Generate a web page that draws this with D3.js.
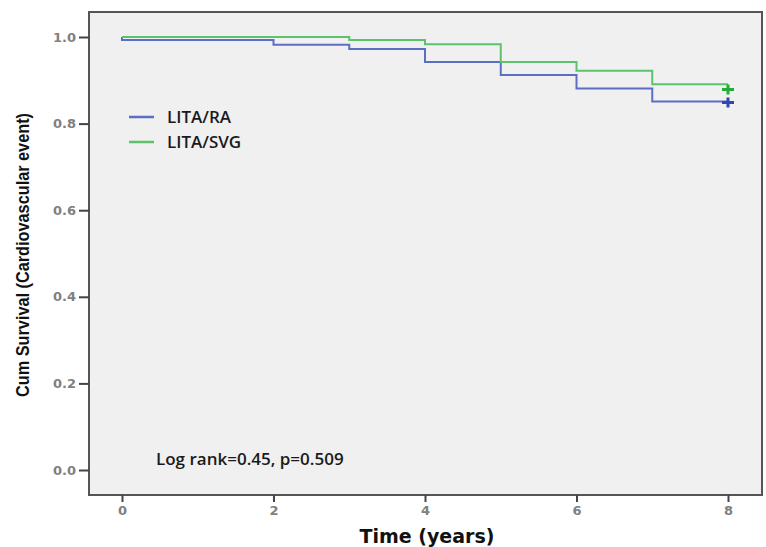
<!DOCTYPE html>
<html>
<head>
<meta charset="utf-8">
<script src="https://cdn.jsdelivr.net/npm/d3@7"></script>
<style>
  body { margin: 0; background: #fff; }
  svg { display: block; }
</style>
</head>
<body>
<div id="km"></div>
<script>
// Kaplan-Meier steps
var groups = ["LITA/RA", "LITA/SVG"];
var raTimes = [0, 0, 2, 3, 4, 5, 6, 7];
var raSurv = [1.0, 0.993, 0.982, 0.972, 0.942, 0.912, 0.881, 0.851];
var svgTimes = [0, 3, 4, 5, 6, 7];
var svgSurv = [1.0, 0.993, 0.983, 0.942, 0.922, 0.891];
var endTime = 8;
var raCensor = [{ t: 8, s: 0.849 }];
var svgCensor = [{ t: 8, s: 0.879 }];
var xTicks = [0, 2, 4, 6, 8];
var yTicks = [0.0, 0.2, 0.4, 0.6, 0.8, 1.0];
var statText = "Log rank=0.45, p=0.509";

var width = 766;
var height = 547;
var frame = { left: 89, right: 762, top: 12, bottom: 495 };
var colors = { "LITA/RA": "#5a6fc3", "LITA/SVG": "#5cc26b" };
var markColors = { "LITA/RA": "#3048ae", "LITA/SVG": "#25ad33" };

var xScale = d3.scaleLinear().domain([0, 8]).range([122, 728]);
var yScale = d3.scaleLinear().domain([0, 1]).range([470, 37]);

var svg = d3.select('#km')
    .append('svg')
    .attr('width', width)
    .attr('height', height);

// plot area
svg.append('rect')
    .attr('x', frame.left)
    .attr('y', frame.top)
    .attr('width', frame.right - frame.left)
    .attr('height', frame.bottom - frame.top)
    .attr('fill', '#f0f0f0')
    .attr('stroke', '#555')
    .attr('stroke-width', 2);

var yAxis = d3.axisLeft(yScale)
    .tickValues(yTicks)
    .tickFormat(d3.format(".1f"))
    .tickSize(10)
    .tickSizeOuter(0);

var gy = svg.append('g')
    .attr('transform', 'translate(' + frame.left + ',0)')
    .call(yAxis);
gy.select('.domain').remove();
gy.selectAll('line').attr('stroke', '#444').attr('stroke-width', 2);
gy.selectAll('text')
    .attr('x', -13)
    .attr('fill', '#808080')
    .style('font-family', 'DejaVu Sans')
    .style('font-weight', 'bold')
    .style('font-size', '13px');

var xAxis = d3.axisBottom(xScale)
    .tickValues(xTicks)
    .tickFormat(d3.format("d"))
    .tickSize(7)
    .tickSizeOuter(0);

var gx = svg.append('g')
    .attr('transform', 'translate(0,' + frame.bottom + ')')
    .call(xAxis);
gx.select('.domain').remove();
gx.selectAll('line').attr('stroke', '#444').attr('stroke-width', 2);
gx.selectAll('text')
    .attr('y', 11)
    .attr('fill', '#808080')
    .style('font-family', 'DejaVu Sans')
    .style('font-weight', 'bold')
    .style('font-size', '13px');

// axis titles
svg.append('text')
    .attr('x', 427)
    .attr('y', 543)
    .attr('text-anchor', 'middle')
    .attr('fill', '#111')
    .style('font-family', 'DejaVu Sans')
    .style('font-weight', 'bold')
    .style('font-size', '19px')
    .text('Time (years)');

svg.append('text')
    .attr('transform', 'translate(29,255) rotate(-90)')
    .attr('text-anchor', 'middle')
    .attr('fill', '#111')
    .attr('textLength', 284)
    .attr('lengthAdjust', 'spacingAndGlyphs')
    .style('font-family', '"Liberation Sans Narrow", "Liberation Sans", sans-serif')
    .style('font-weight', 'bold')
    .style('font-size', '18px')
    .text('Cum Survival (Cardiovascular event)');

// step curves
function stepPoints(times, surv) {
    var pts = times.map(function(t, i) { return [t, surv[i]]; });
    pts.push([endTime, surv[surv.length - 1]]);
    return pts;
}
var line = d3.line()
    .x(function(d) { return xScale(d[0]); })
    .y(function(d) { return yScale(d[1]); })
    .curve(d3.curveStepAfter);

var series = [
    { name: "LITA/RA", pts: stepPoints(raTimes, raSurv), censor: raCensor },
    { name: "LITA/SVG", pts: stepPoints(svgTimes, svgSurv), censor: svgCensor }
];

series.forEach(function(s) {
    svg.append('path')
        .attr('d', line(s.pts))
        .attr('fill', 'none')
        .attr('stroke', colors[s.name])
        .attr('stroke-width', 2);
    svg.selectAll(null)
        .data(s.censor)
        .enter()
        .append('path')
        .attr('transform', function(d) { return 'translate(' + xScale(d.t) + ',' + yScale(d.s) + ')'; })
        .attr('d', 'M-6,0H6M0,-5V5')
        .attr('stroke', markColors[s.name])
        .attr('stroke-width', 3);
});

// legend
var legend = svg.append('g');
groups.forEach(function(g, i) {
    var y = 117 + i * 25;
    legend.append('line')
        .attr('x1', 129).attr('x2', 154)
        .attr('y1', y).attr('y2', y)
        .attr('stroke', colors[g])
        .attr('stroke-width', 2.5);
    legend.append('text')
        .attr('x', 167)
        .attr('y', y + 6)
        .attr('fill', '#1a1a1a')
        .style('font-family', '"Open Sans", sans-serif')
        .style('font-weight', 600)
        .style('font-size', '17px')
        .text(g);
});

svg.append('text')
    .attr('x', 156)
    .attr('y', 465)
    .attr('fill', '#1a1a1a')
    .style('font-family', '"Open Sans", sans-serif')
    .style('font-weight', 600)
    .style('font-size', '17px')
    .text(statText);
</script>
</body>
</html>
